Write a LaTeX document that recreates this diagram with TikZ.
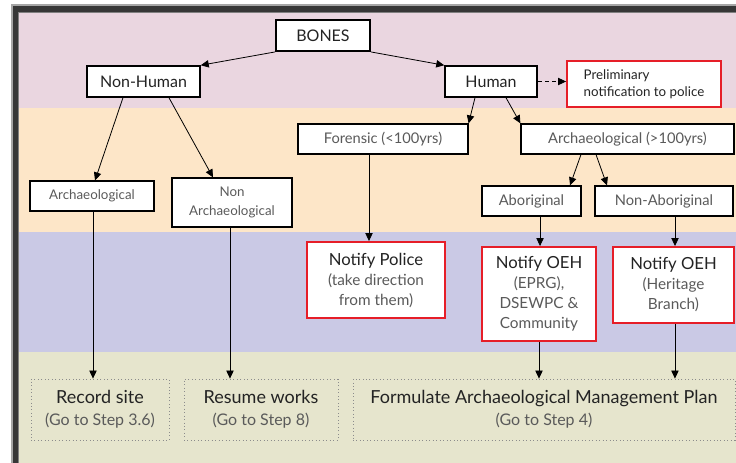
\documentclass[tikz,border=0pt]{standalone}
\usepackage{fontspec}
\setmainfont{Lato}
\usetikzlibrary{arrows.meta}
\definecolor{bandA}{RGB}{234,214,224}
\definecolor{bandB}{RGB}{253,230,200}
\definecolor{bandC}{RGB}{202,201,229}
\definecolor{bandD}{RGB}{230,229,205}
\definecolor{txtdark}{RGB}{35,35,35}
\definecolor{txtgray}{RGB}{90,90,90}
\definecolor{boxred}{RGB}{230,30,40}
\definecolor{framedark}{RGB}{55,55,55}
\newcommand\ttl[2]{{\fontsize{#1}{15}\selectfont\color{txtdark}#2}}
\newcommand\sub[2]{{\fontsize{#1}{15}\selectfont\color{txtgray}#2}}
\begin{document}
\begin{tikzpicture}[x=0.75pt,y=-0.75pt,
  blk/.style={draw=black, line width=1.1pt, fill=white, inner sep=0pt, align=center, font=\fontsize{12}{15}\selectfont, text=txtdark},
  gbox/.style={blk, line width=0.9pt, text=txtgray, font=\fontsize{11}{15}\selectfont},
  redbox/.style={draw=boxred, line width=1.4pt, fill=white, inner sep=0pt, align=center, font=\fontsize{12}{15}\selectfont},
  dotbox/.style={draw=black!45, dotted, line width=0.6pt, inner sep=0pt, align=center, font=\fontsize{13}{16.5}\selectfont},
  arr/.style={-{Triangle[length=6pt,width=5.5pt]}, line width=0.6pt, draw=black}
]
\useasboundingbox (0,0) rectangle (736,463);
\begin{scope}
\clip (0,0) rectangle (736,463);
\fill[white] (0,0) rectangle (736,463);
\fill[bandA] (18,11) rectangle (760,108);
\fill[bandB] (18,108) rectangle (760,232);
\fill[bandC] (18,232) rectangle (760,352);
\fill[bandD] (18,352) rectangle (760,480);
\draw[black!35, line width=0.9pt] (12,5) rectangle (770,490);
\draw[framedark, line width=4.5pt] (15.5,8.8) rectangle (775,495);
\draw[black!50, line width=0.5pt] (18.6,12) rectangle (770,490);
\end{scope}

% top band
\node[blk, line width=1.4pt, minimum width=70.5pt, minimum height=23.25pt] (bones) at (323,35.5) {BONES};
\node[blk, minimum width=84.75pt, minimum height=23.25pt] (nonhuman) at (143.5,81.5) {Non-Human};
\node[blk, minimum width=69pt, minimum height=23.25pt] (human) at (491,81.5) {Human};
\node[redbox, align=left, minimum width=115.5pt, minimum height=34.5pt, font=\fontsize{10}{13}\selectfont, text=txtdark] (prelim) at (644,84) {Preliminary\\notification to police};

% peach band
\node[gbox, minimum width=127.5pt, minimum height=22.5pt] (forensic) at (383,139) {Forensic (<100yrs)};
\node[gbox, minimum width=159.75pt, minimum height=22.5pt] (archbig) at (627.5,139) {Archaeological (>100yrs)};
\node[gbox, minimum width=93pt, minimum height=22.5pt, font=\fontsize{10}{14}\selectfont] (archsmall) at (92,196) {Archaeological};
\node[gbox, minimum width=90pt, minimum height=36.75pt, font=\fontsize{10}{14}\selectfont] (nonarch) at (232,202.5) {Non\\Archaeological};
\node[gbox, minimum width=74.25pt, minimum height=22.5pt] (aborig) at (531.5,201) {Aboriginal};
\node[gbox, minimum width=103.5pt, minimum height=22.5pt] (nonaborig) at (664,201) {Non-Aboriginal};

% lavender band
\node[redbox, minimum width=103.5pt, minimum height=57pt] (police) at (376,280) {\ttl{12.5}{Notify Police}\\\sub{11.5}{(take direction}\\\sub{11.5}{from them)}};
\node[redbox, minimum width=85.5pt, minimum height=70.5pt] (oehA) at (539,294) {\ttl{12.5}{Notify OEH}\\\sub{11.5}{(EPRG),}\\\sub{11.5}{DSEWPC \&}\\\sub{11.5}{Community}};
\node[redbox, minimum width=90.75pt, minimum height=57pt] (oehB) at (673.5,285) {\ttl{12.5}{Notify OEH}\\\sub{11.5}{(Heritage}\\\sub{11.5}{Branch)}};

% bottom band
\node[dotbox, minimum width=103.5pt, minimum height=45.75pt] (record) at (100,409.5) {\ttl{13.5}{Record site}\\\sub{12}{(Go to Step 3.6)}};
\node[dotbox, minimum width=115.5pt, minimum height=45.75pt] (resume) at (261,409.5) {\ttl{13.5}{Resume works}\\\sub{12}{(Go to Step 8)}};
\node[dotbox, minimum width=286.5pt, minimum height=45.75pt] (formulate) at (544,409.5) {\ttl{13.5}{Formulate Archaeological Management Plan}\\\sub{12}{(Go to Step 4)}};

% connectors
\draw[arr] (bones.south west) -- (nonhuman.north east);
\draw[arr] (bones.south east) -- (human.north west);
\draw[arr, dashed, dash pattern=on 3pt off 2.5pt] (human.east) -- (human.east -| prelim.west);
\draw[arr] ([xshift=-12pt]human.south) -- (forensic.north east);
\draw[arr] ([xshift=11.25pt]human.south) -- (archbig.north west);
\draw[arr] ([xshift=-15.4pt]nonhuman.south) -- ([xshift=2.25pt]archsmall.north);
\draw[arr] ([xshift=19.1pt]nonhuman.south) -- ([xshift=-14.25pt]nonarch.north);
\draw[arr] ([xshift=-34.9pt]archbig.south) -- ([xshift=28.9pt]aborig.north);
\draw[arr] ([xshift=-23.6pt]archbig.south) -- ([xshift=-42.75pt]nonaborig.north);
\coordinate (f1) at ([xshift=-10.5pt]forensic.south);
\draw[arr] (f1) -- (f1 |- police.north);
\coordinate (a1) at ([xshift=6.4pt]aborig.south);
\draw[arr] (a1) -- (a1 |- oehA.north);
\coordinate (n1) at ([xshift=8.25pt]nonaborig.south);
\draw[arr] (n1) -- (n1 |- oehB.north);
\coordinate (s1) at ([xshift=0.75pt]archsmall.south);
\draw[arr] (s1) -- (s1 |- record.north);
\coordinate (s2) at ([xshift=-1.5pt]nonarch.south);
\draw[arr] (s2) -- (s2 |- resume.north);
\draw[arr] (oehA.south) -- (oehA.south |- formulate.north);
\coordinate (o2) at ([xshift=1.1pt]oehB.south);
\draw[arr] (o2) -- (o2 |- formulate.north);
\end{tikzpicture}
\end{document}
